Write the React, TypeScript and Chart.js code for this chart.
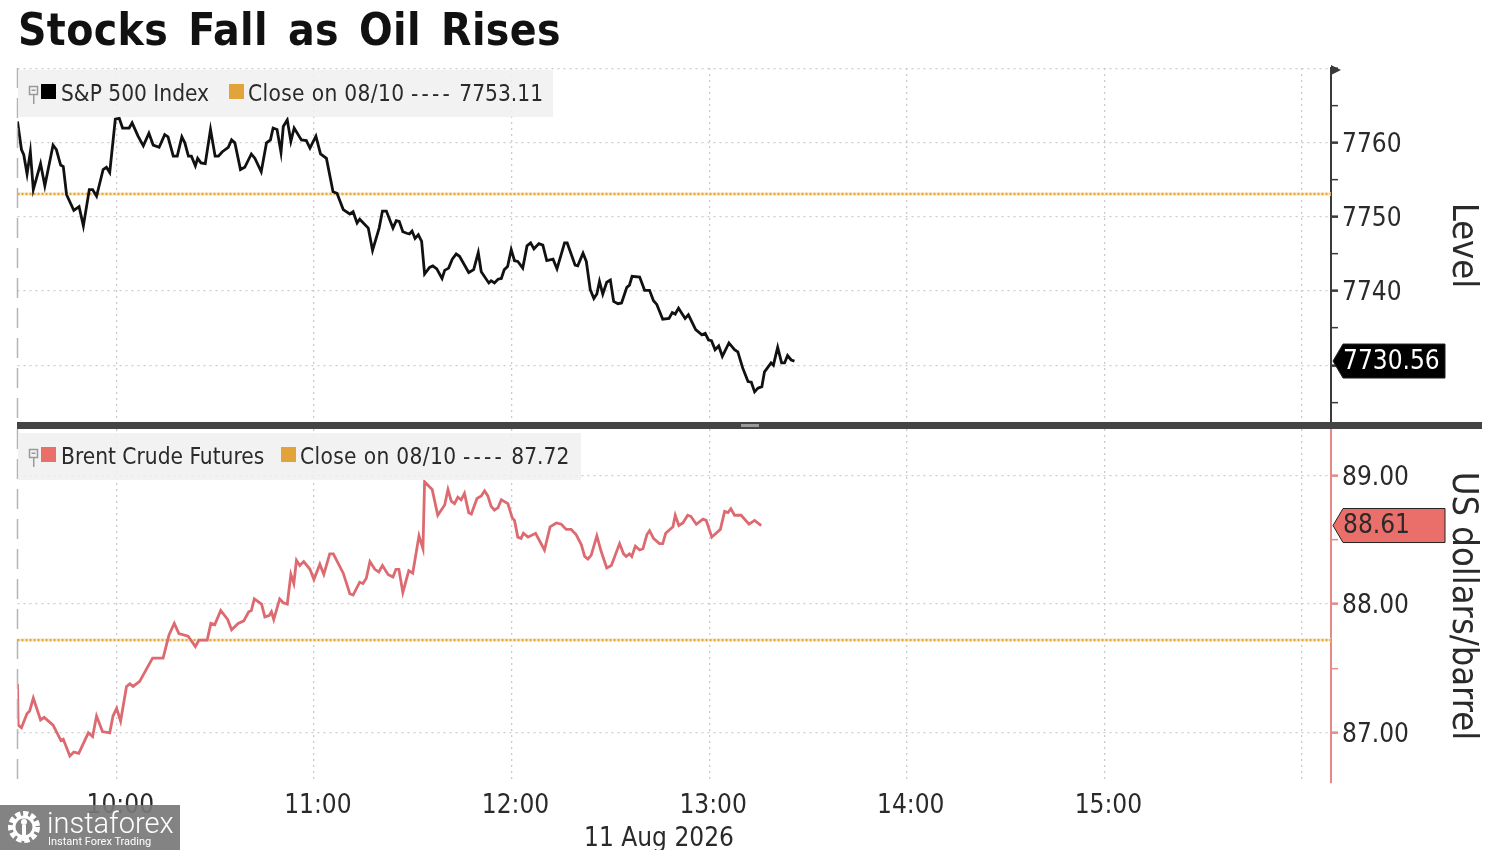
import Chart from "chart.js/auto";
import { useEffect, useRef } from "react";

const FONT = "'DejaVu Sans Condensed', 'Noto Sans', sans-serif";
const TEXT_COLOR = "#2a2a2a";
const GRID_COLOR = "#cbcbcb";
const CLOSE_COLOR = "#e2a43a";

// minutes since midnight
const xMin = 570;
const xMax = 968.8;
const xTickValues = [600, 660, 720, 780, 840, 900];
const xTickLabels = ["10:00", "11:00", "12:00", "13:00", "14:00", "15:00"];

const sp500Times = [
  570, 571.2, 571.9, 572.9, 573.9, 574.8, 577, 578.3, 580.8, 581.8, 583.1, 583.9, 584.9, 587.1, 588.7, 590,
  591.8, 592.8, 594, 596, 597, 598, 599.7, 600.9, 601.9, 603.9, 604.8, 606.6, 608.2, 609.9, 611.2, 613,
  614.7, 615.7, 617.3, 618.5, 619.9, 620.8, 621.9, 622.8, 624, 624.7, 625.7, 627, 628.6, 630, 631, 632.2,
  634, 635, 636, 637.7, 639, 641, 642.1, 644, 645.6, 646.8, 647.6, 648.8, 650, 650.7, 651.9, 653, 654,
  656.2, 657.7, 658.8, 660.6, 662, 663.8, 665.8, 667, 668.9, 670.9, 671.9, 673.1, 673.9, 676.5, 677.8,
  679.8, 680.8, 682, 684, 685, 685.9, 687, 688.2, 689, 689.8, 690.7, 691.7, 692.7, 693.6, 695.1, 696.1,
  697.3, 698.9, 699.7, 700.9, 702, 703.2, 704.2, 707, 708.5, 709.9, 710.8, 713.1, 713.8, 714.8, 715.9,
  716.9, 717.8, 718.8, 719.9, 720.9, 721.9, 723.4, 724.7, 725.8, 726.8, 728.3, 729.5, 730.7, 732.6, 733.8,
  736.1, 736.9, 739.3, 740.1, 741.7, 742.7, 743.9, 745, 745.9, 746.7, 747.7, 748.9, 750, 751, 752.3, 753.4,
  755, 755.8, 756.6, 758.9, 760.4, 761.9, 763.1, 764.1, 765.9, 767.8, 768.8, 769.7, 770.7, 772.7, 773.7,
  775.9, 777.8, 778.8, 779.8, 780.7, 781.8, 782.9, 784, 786, 787.7, 788.7, 790.2, 791.8, 792.8, 793.8,
  794.8, 796, 796.8, 798.8, 799.5, 800.8, 802, 802.9, 803.8, 804.9, 805.9,
];
const sp500Values = [
  7762.9, 7759.1, 7758.4, 7755.8, 7758.8, 7753.7, 7757.2, 7754.2, 7759.7, 7759.1, 7757, 7756.8, 7753, 7750.9,
  7751.4, 7748.8, 7753.7, 7753.7, 7752.8, 7756.4, 7756.7, 7756, 7763.2, 7763.3, 7762, 7762, 7762.7, 7760.9,
  7759.6, 7761.3, 7759.7, 7759.4, 7761.1, 7760.8, 7758.2, 7758.2, 7760.8, 7760, 7758.2, 7758.2, 7756.9, 7757.9,
  7757.3, 7757.2, 7761.8, 7758.2, 7758.2, 7758.8, 7759.4, 7760.4, 7760, 7756.4, 7756.7, 7758.5, 7757.9, 7756.1,
  7760, 7760.4, 7762, 7761.8, 7758.7, 7762.2, 7763.1, 7760.2, 7762, 7760.4, 7760.3, 7759.3, 7760.9, 7758.5,
  7757.9, 7753.4, 7753.2, 7751, 7750.4, 7750.7, 7749.2, 7749.7, 7748.5, 7745.5, 7748.5, 7750.8, 7750.8, 7748.5,
  7749.5, 7749.4, 7748, 7747.8, 7747.7, 7748.1, 7747.1, 7747.6, 7746.7, 7742.3, 7743.2, 7743.4, 7743, 7741.7,
  7742.8, 7743.1, 7744.3, 7745, 7744.7, 7742.5, 7742.9, 7745.2, 7742.6, 7741.1, 7741.4, 7741.1, 7741.6, 7741.7,
  7742.9, 7743.3, 7745.6, 7744.1, 7744, 7743.1, 7746.1, 7746.5, 7745.7, 7746.4, 7746.2, 7744.1, 7744.3, 7743,
  7746.5, 7746.5, 7743.5, 7743.4, 7745.1, 7744, 7740.2, 7739, 7739.6, 7741.3, 7739.6, 7741.2, 7741.5, 7738.6,
  7738.3, 7738.4, 7740.5, 7740.8, 7742, 7741.9, 7740.1, 7740.1, 7738.7, 7738.2, 7736.2, 7736.3, 7737.1, 7736.9,
  7737.7, 7736.3, 7736.8, 7734.8, 7734.1, 7734.3, 7733.4, 7733.3, 7732.1, 7732.6, 7731.2, 7733, 7732.1, 7731.8,
  7729.6, 7727.8, 7727.7, 7726.4, 7726.9, 7727.1, 7729.1, 7730.3, 7730, 7732.4, 7730.3, 7730.3, 7731.3, 7730.7,
  7730.56,
];
const sp500Close = 7753.11;

const brentTimes = [
  570, 570.2, 571.2, 572.9, 573.7, 574.8, 577, 578.1, 580.8, 583.2, 583.9, 585.9, 587.1, 588.6, 591.5, 592.8,
  594, 595.8, 598, 599, 600.1, 601.3, 603.1, 604.1, 605.1, 607.1, 611, 614.2, 616, 617.6, 619, 621.8, 624,
  625.1, 627.6, 628.7, 629.9, 631.7, 633.8, 635, 637, 638.7, 640.2, 641, 641.9, 644.1, 645.1, 646.4, 647.1,
  647.8, 649.6, 650.7, 651.9, 653, 653.9, 654.7, 655.7, 656.9, 658.8, 660, 661.8, 663, 664.8, 665.9, 668.9,
  670.9, 671.9, 673.9, 674.9, 675.9, 677, 678.5, 679.7, 680.8, 682.5, 684, 684.9, 685.8, 687, 688.8, 690,
  691.9, 693.1, 693.6, 695.9, 697.6, 699.7, 700.7, 701.7, 702.7, 703.7, 704.7, 705.7, 707, 707.8, 709.5,
  710.8, 711.8, 712.8, 713.8, 714.8, 715.9, 716.9, 718.9, 720.2, 720.9, 721.9, 722.9, 723.6, 725, 727.3, 730,
  731.7, 733.6, 735.1, 736.6, 738.1, 739.6, 741.2, 742.2, 743.2, 744.2, 745.9, 747.2, 748.9, 750.3, 752.8,
  754, 754.8, 755.8, 756.5, 757.6, 758.9, 759.9, 761.1, 761.9, 763.1, 764.9, 765.9, 766.8, 769, 769.7, 770.8,
  772, 773.5, 774.5, 776.1, 778.1, 779.1, 780.8, 782.1, 783.4, 784.7, 785.7, 786.6, 787.7, 789.7, 792.1,
  793.8, 795.8,
];
const brentValues = [
  87.38, 87.06, 87.04, 87.15, 87.17, 87.27, 87.1, 87.12, 87.06, 86.94, 86.95, 86.82, 86.85, 86.84, 87, 86.97,
  87.13, 87.01, 87, 87.13, 87.19, 87.09, 87.36, 87.38, 87.36, 87.4, 87.58, 87.58, 87.76, 87.85, 87.77, 87.75,
  87.67, 87.72, 87.72, 87.85, 87.84, 87.95, 87.88, 87.8, 87.85, 87.87, 87.94, 87.95, 88.04, 88, 87.9, 87.91,
  87.94, 87.88, 88.04, 88.01, 88, 88.23, 88.16, 88.34, 88.3, 88.33, 88.27, 88.19, 88.31, 88.23, 88.39, 88.39,
  88.24, 88.08, 88.07, 88.17, 88.16, 88.2, 88.33, 88.27, 88.25, 88.3, 88.23, 88.21, 88.27, 88.27, 88.09, 88.26,
  88.24, 88.53, 88.43, 88.95, 88.89, 88.69, 88.77, 88.89, 88.8, 88.78, 88.83, 88.81, 88.86, 88.71, 88.7, 88.82,
  88.84, 88.88, 88.84, 88.76, 88.73, 88.75, 88.81, 88.78, 88.67, 88.65, 88.52, 88.51, 88.55, 88.52, 88.55, 88.42,
  88.6, 88.63, 88.62, 88.58, 88.58, 88.54, 88.46, 88.37, 88.35, 88.38, 88.53, 88.41, 88.28, 88.3, 88.47, 88.39,
  88.37, 88.39, 88.37, 88.45, 88.42, 88.43, 88.54, 88.57, 88.51, 88.47, 88.47, 88.55, 88.6, 88.69, 88.61, 88.63,
  88.69, 88.68, 88.62, 88.66, 88.65, 88.52, 88.55, 88.58, 88.72, 88.71, 88.74, 88.69, 88.69, 88.62, 88.65, 88.61,
];
const brentClose = 87.72;

interface PanelProps {
  top: number;
  height: number;
  times: number[];
  values: number[];
  close: number;
  yMin: number;
  yMax: number;
  step: number;
  gridEvery: number;
  yLabels: number[];
  yTitle: string;
  lineColor: string;
  axisColor: string;
  tagFill: string;
  tagText: string;
  tagLabel: string;
  showTimeAxis: boolean;
  padTop: number;
  padBottom: number;
  topArrow: boolean;
}

function noEdgePadding(s: any) {
  s.paddingTop = 0;
  s.paddingBottom = 0;
  s.paddingLeft = 0;
  s.paddingRight = 0;
}

function PricePanel(props: PanelProps) {
  const chartRef = useRef<HTMLCanvasElement | null>(null);

  useEffect(() => {
    if (!chartRef.current) return;
    const { times, values, close, yLabels, gridEvery } = props;
    const isGrid = (v: number) => Math.abs(v / gridEvery - Math.round(v / gridEvery)) < 1e-6;

    const panelMarks = {
      id: "panelMarks",
      afterDatasetsDraw(chart: any) {
        const { ctx, chartArea } = chart;
        const y = chart.scales.y;
        ctx.save();
        // long dashes along the left edge
        ctx.strokeStyle = "#b5b5b5";
        ctx.lineWidth = 1.5;
        ctx.setLineDash([20, 10]);
        ctx.beginPath();
        ctx.moveTo(chartArea.left, chartArea.top);
        ctx.lineTo(chartArea.left, chartArea.bottom);
        ctx.stroke();
        ctx.setLineDash([]);
        if (props.topArrow) {
          ctx.fillStyle = props.axisColor;
          ctx.beginPath();
          ctx.moveTo(chartArea.right, chartArea.top - 3);
          ctx.lineTo(chartArea.right + 10, chartArea.top + 2);
          ctx.lineTo(chartArea.right, chartArea.top + 7);
          ctx.fill();
        }
        // last price tag
        const tagY = y.getPixelForValue(values[values.length - 1]);
        const left = chartArea.right + 2;
        ctx.fillStyle = props.tagFill;
        ctx.strokeStyle = "#222";
        ctx.lineWidth = 1;
        ctx.beginPath();
        ctx.moveTo(left, tagY);
        ctx.lineTo(left + 10, tagY - 17);
        ctx.lineTo(1445, tagY - 17);
        ctx.lineTo(1445, tagY + 17);
        ctx.lineTo(left + 10, tagY + 17);
        ctx.closePath();
        ctx.fill();
        ctx.stroke();
        ctx.fillStyle = props.tagText;
        ctx.font = `26px ${FONT}`;
        ctx.textBaseline = "middle";
        ctx.fillText(props.tagLabel, 1343, tagY + 1);
        ctx.restore();
      },
    };

    const chart = new Chart(chartRef.current, {
      type: "line",
      data: {
        datasets: [
          {
            data: times.map((t, i) => ({ x: t, y: values[i] })),
            borderColor: props.lineColor,
            borderWidth: 2.8,
            pointRadius: 0,
            tension: 0,
          },
          {
            data: [
              { x: xMin, y: close },
              { x: xMax, y: close },
            ],
            borderColor: CLOSE_COLOR,
            borderWidth: 2.2,
            borderDash: [2, 2],
            pointRadius: 0,
          },
          {
            data: [
              { x: xMin, y: close },
              { x: xMax, y: close },
            ],
            borderColor: "#f8ecd0",
            borderWidth: 3.5,
            pointRadius: 0,
          },
        ],
      },
      options: {
        animation: false,
        responsive: false,
        devicePixelRatio: 1,
        layout: { padding: { left: 17.5, top: props.padTop, bottom: props.padBottom, right: 0 } },
        plugins: { legend: { display: false }, tooltip: { enabled: false } },
        scales: {
          x: {
            type: "linear",
            min: xMin,
            max: xMax,
            grid: { color: GRID_COLOR, drawTicks: false, lineWidth: 1.3 },
            border: { display: false, dash: [2, 4] },
            afterFit: (s: any) => {
              s.height = props.showTimeAxis ? 67 : 0;
              noEdgePadding(s);
            },
            afterBuildTicks: (s: any) => {
              s.ticks = [...xTickValues, 960].map((value) => ({ value }));
            },
            ticks: {
              display: props.showTimeAxis,
              autoSkip: false,
              maxRotation: 0,
              padding: 8,
              labelOffset: 4,
              color: TEXT_COLOR,
              font: { family: FONT, size: 26 },
              callback: (v: any) => xTickLabels[xTickValues.indexOf(v)] ?? "",
            },
          },
          y: {
            position: "right",
            min: props.yMin,
            max: props.yMax,
            afterFit: (s: any) => {
              s.width = 1500 - 1331;
              noEdgePadding(s);
            },
            grid: {
              color: (c: any) => (isGrid(c.tick.value) ? GRID_COLOR : "rgba(0,0,0,0)"),
              lineWidth: 1.3,
              tickLength: 7,
              tickColor: props.axisColor,
              tickWidth: (c: any) => (isGrid(c.tick.value) ? 2.5 : 1.5),
            },
            border: { color: props.axisColor, width: 2, dash: [2, 4] },
            ticks: {
              stepSize: props.step,
              includeBounds: false,
              autoSkip: false,
              padding: 4,
              labelOffset: 2.5,
              color: TEXT_COLOR,
              font: { family: FONT, size: 26 },
              callback: (v: any) => {
                const i = yLabels.indexOf(v);
                if (i < 0) return "";
                return gridEvery === 1 ? yLabels[i].toFixed(2) : String(yLabels[i]);
              },
            },
            title: {
              display: true,
              text: props.yTitle,
              color: TEXT_COLOR,
              font: { family: FONT, size: 36 },
              padding: { top: 16, bottom: 0 },
            },
          },
        },
      },
      plugins: [panelMarks],
    } as any);
    return () => chart.destroy();
  }, []);

  return (
    <canvas
      ref={chartRef}
      width={1500}
      height={props.height}
      style={{ position: "absolute", left: 0, top: props.top, width: 1500, height: props.height }}
    />
  );
}

function Pin({ x, y }: { x: number; y: number }) {
  return (
    <svg style={{ position: "absolute", left: x, top: y }} width={12} height={20}>
      <rect x={1.5} y={1.5} width={8} height={8} fill="none" stroke="#999" strokeWidth={1.5} />
      <rect x={3.5} y={4.5} width={4} height={1.5} fill="#999" />
      <rect x={5} y={10} width={1.5} height={9} fill="#999" />
    </svg>
  );
}

interface LegendProps {
  top: number;
  width: number;
  swatch: string;
  name: string;
  nameWidth: number;
  closeLabel: string;
  closeValue: string;
}

function Legend({ top, width, swatch, name, nameWidth, closeLabel, closeValue }: LegendProps) {
  const textStyle = {
    position: "absolute" as const,
    top: top + 4,
    fontSize: 22.5,
    lineHeight: "38px",
    color: TEXT_COLOR,
    whiteSpace: "pre" as const,
  };
  return (
    <>
      <div
        style={{
          position: "absolute",
          left: 18,
          top,
          width,
          height: 47,
          background: "rgba(240,240,240,0.85)",
        }}
      />
      <Pin x={28} y={top + 15} />
      <div style={{ position: "absolute", left: 41, top: top + 14, width: 15, height: 15, background: swatch }} />
      <div style={{ ...textStyle, left: 61 }}>{name}</div>
      <div
        style={{
          position: "absolute",
          left: 61 + nameWidth + 21,
          top: top + 14,
          width: 15,
          height: 15,
          background: CLOSE_COLOR,
        }}
      />
      <div style={{ ...textStyle, left: 61 + nameWidth + 40 }}>
        <span style={{ letterSpacing: 0.35 }}>{closeLabel}</span>
        {" "}
        <span style={{ letterSpacing: 3.2 }}>----</span>
        {" "}
        {closeValue}
      </div>
    </>
  );
}

export default function App() {
  useEffect(() => {
    document.body.style.margin = "0";
  }, []);

  return (
    <div
      style={{
        position: "absolute",
        left: 0,
        top: 0,
        width: 1500,
        height: 850,
        overflow: "hidden",
        background: "#fff",
        fontFamily: FONT,
      }}
    >
      <PricePanel
        top={0}
        height={424}
        times={sp500Times}
        values={sp500Values}
        close={sp500Close}
        yMin={7722.2}
        yMax={7770.1}
        step={5}
        gridEvery={10}
        yLabels={[7760, 7750, 7740]}
        yTitle="Level"
        lineColor="#111111"
        axisColor="#3a3a3a"
        tagFill="#000000"
        tagText="#ffffff"
        tagLabel="7730.56"
        showTimeAxis={false}
        padTop={68}
        padBottom={1}
        topArrow
      />
      <PricePanel
        top={429}
        height={421}
        times={brentTimes}
        values={brentValues}
        close={brentClose}
        yMin={86.61}
        yMax={89.36}
        step={0.5}
        gridEvery={1}
        yLabels={[89, 88, 87]}
        yTitle="US dollars/barrel"
        lineColor="#dd6a70"
        axisColor="#e58a86"
        tagFill="#ea6f6a"
        tagText="#2a2a2a"
        tagLabel="88.61"
        showTimeAxis
        padTop={0}
        padBottom={0}
        topArrow={false}
      />

      <div
        style={{
          position: "absolute",
          left: 18,
          top: 3,
          fontSize: 44,
          fontWeight: 700,
          lineHeight: "54px",
          color: "#111",
          whiteSpace: "pre",
          wordSpacing: 6,
          letterSpacing: 0.35,
        }}
      >
        Stocks Fall as Oil Rises
      </div>

      <Legend
        top={70}
        width={535}
        swatch="#000000"
        name="S&P 500 Index"
        nameWidth={147}
        closeLabel="Close on 08/10"
        closeValue="7753.11"
      />
      <Legend
        top={433}
        width={563}
        swatch="#ea6f6a"
        name="Brent Crude Futures"
        nameWidth={199}
        closeLabel="Close on 08/10"
        closeValue="87.72"
      />

      <div style={{ position: "absolute", left: 17, top: 422, width: 1465, height: 7, background: "#444" }} />
      <div style={{ position: "absolute", left: 741, top: 424, width: 18, height: 3, background: "#9a9a9a" }} />

      <div
        style={{
          position: "absolute",
          left: 559,
          width: 200,
          top: 821,
          textAlign: "center",
          fontSize: 26,
          lineHeight: "32px",
          color: TEXT_COLOR,
        }}
      >
        11 Aug 2026
      </div>

      <div
        style={{
          position: "absolute",
          left: 0,
          top: 805,
          width: 180,
          height: 45,
          background: "rgba(120,120,120,0.92)",
          color: "#fff",
          fontFamily: "Roboto, sans-serif",
        }}
      >
        <svg style={{ position: "absolute", left: 6, top: 4 }} width={36} height={36} viewBox="0 0 36 36">
          <circle cx={18} cy={18} r={13} fill="none" stroke="#fff" strokeWidth={6} strokeDasharray="5 2.5" />
          <circle cx={18} cy={18} r={10} fill="none" stroke="#fff" strokeWidth={3} />
          <circle cx={18} cy={13} r={3} fill="#fff" />
          <rect x={16} y={16} width={4} height={16} fill="#fff" />
        </svg>
        <div style={{ position: "absolute", left: 47, top: 0, fontSize: 29, lineHeight: "36px", fontWeight: 300 }}>
          instaforex
        </div>
        <div style={{ position: "absolute", left: 48, top: 30, fontSize: 11, lineHeight: "13px" }}>
          Instant Forex Trading
        </div>
      </div>
    </div>
  );
}
